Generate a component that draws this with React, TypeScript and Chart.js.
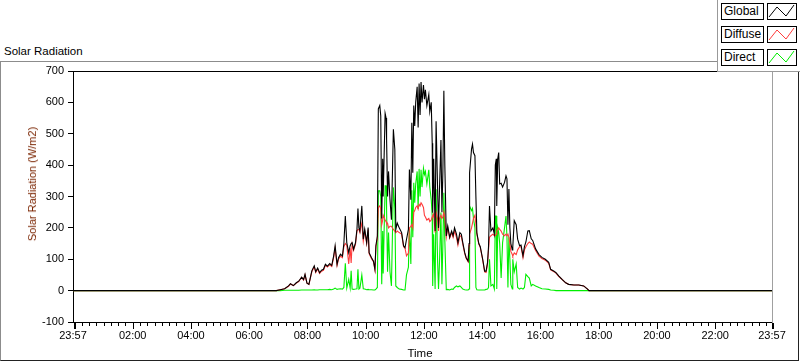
import React, { useEffect, useRef } from 'react';
import { Chart, registerables } from 'chart.js';

Chart.register(...registerables);

// time in minutes after midnight (23:57 of previous day = -3)
const times = [
  -3, 416, 424, 433, 441, 445, 451, 457, 462, 468,
  472, 475, 479, 483, 489, 494, 497, 501, 505, 509,
  513, 517, 521, 526, 530, 534, 537, 541, 544, 548,
  552, 555, 558, 561, 565, 568, 570, 572, 575, 579,
  582, 584, 586, 588, 590, 592, 595, 598, 602, 605,
  607, 612, 616, 619, 621, 624, 626, 629, 631, 633,
  635, 636, 640, 642, 643, 645, 647, 650, 653, 657,
  660, 662, 665, 669, 674, 678, 681, 684, 688, 690,
  693, 695, 697, 699, 701, 703, 706, 708, 710, 712,
  714, 716, 719, 721, 723, 726, 730, 732, 735, 737,
  738, 740, 743, 745, 748, 750, 752, 755, 757, 759,
  761, 763, 766, 769, 773, 777, 780, 783, 787, 790,
  794, 797, 800, 804, 807, 811, 813, 814, 818, 820,
  822, 825, 827, 829, 833, 836, 841, 845, 848, 851,
  853, 855, 858, 862, 865, 867, 869, 870, 872, 874,
  876, 879, 882, 886, 889, 891, 893, 895, 897, 899,
  902, 903, 906, 910, 913, 917, 920, 924, 927, 930,
  934, 937, 941, 944, 950, 957, 963, 970, 977, 981,
  988, 992, 998, 1005, 1012, 1018, 1029, 1039, 1049, 1057,
  1060, 1437,
];

const globalRad = [
  0, 0, 3, 6, 15, 22, 16, 25, 30, 43,
  35, 52, 24, 20, 63, 79, 60, 72, 57, 65,
  68, 84, 78, 86, 80, 111, 143, 84, 105, 116,
  110, 150, 238, 153, 121, 143, 150, 153, 132, 153,
  196, 262, 200, 190, 230, 270, 164, 196, 153, 201,
  121, 105, 94, 68, 143, 174, 579, 590, 557, 230,
  420, 300, 565, 550, 483, 300, 380, 290, 226, 514,
  450, 195, 215, 200, 185, 143, 137, 163, 195, 386,
  290, 535, 376, 590, 525, 600, 650, 520, 660, 560,
  665, 600, 655, 610, 640, 590, 625, 570, 600, 470,
  248, 420, 190, 540, 330, 200, 323, 480, 250, 380,
  637, 400, 174, 206, 170, 190, 175, 200, 180, 153,
  185, 180, 153, 121, 105, 94, 150, 376, 451, 467,
  440, 430, 300, 184, 150, 140, 100, 62, 62, 90,
  140, 270, 190, 200, 180, 400, 420, 270, 420, 440,
  340, 342, 330, 345, 366, 356, 210, 324, 200, 150,
  130, 140, 223, 210, 164, 143, 145, 111, 140, 155,
  190, 191, 165, 160, 133, 115, 106, 100, 90, 68,
  62, 57, 46, 35, 25, 20, 18, 18, 15, 5,
  0, 0,
];

const diffuseRad = [
  0, 0, 3, 6, 14, 21, 16, 24, 29, 42,
  34, 50, 24, 20, 60, 76, 58, 69, 55, 62,
  65, 81, 75, 82, 77, 106, 135, 80, 100, 110,
  105, 140, 150, 145, 85, 135, 88, 148, 128, 148,
  190, 195, 195, 185, 205, 215, 158, 190, 150, 195,
  118, 102, 92, 66, 140, 165, 265, 270, 260, 210,
  225, 240, 225, 220, 215, 215, 200, 205, 205, 195,
  190, 185, 190, 185, 180, 140, 135, 111, 120, 200,
  205, 210, 200, 250, 255, 265, 270, 260, 275, 270,
  280, 275, 265, 240, 235, 225, 230, 220, 225, 235,
  240, 245, 185, 250, 230, 190, 230, 240, 230, 235,
  250, 230, 170, 200, 168, 185, 170, 190, 170, 145,
  175, 172, 148, 118, 103, 92, 145, 180, 200, 215,
  230, 240, 210, 180, 148, 138, 98, 60, 58, 85,
  130, 170, 175, 180, 175, 175, 180, 190, 195, 200,
  195, 190, 180, 175, 180, 175, 180, 170, 150, 125,
  115, 110, 120, 115, 130, 140, 140, 105, 130, 140,
  150, 155, 150, 148, 128, 110, 102, 97, 87, 66,
  60, 56, 45, 35, 25, 20, 18, 18, 15, 5,
  0, 0,
];

const directRad = [
  0, 0, 0, 1, 1, 1, 1, 1, 1, 2,
  2, 2, 2, 2, 2, 3, 2, 2, 3, 3,
  3, 3, 3, 4, 3, 5, 8, 4, 5, 6,
  5, 10, 87, 8, 36, 8, 63, 5, 4, 5,
  6, 68, 5, 8, 28, 50, 6, 5, 3, 4,
  3, 3, 2, 2, 5, 10, 318, 318, 300, 20,
  190, 55, 334, 334, 260, 60, 185, 60, 15, 329,
  260, 15, 10, 5, 4, 2, 2, 50, 75, 198,
  85, 320, 170, 344, 280, 340, 380, 260, 388, 300,
  385, 330, 390, 370, 380, 340, 385, 330, 290, 238,
  15, 180, 5, 323, 100, 5, 90, 249, 20, 150,
  312, 160, 3, 4, 2, 5, 4, 10, 15, 12,
  15, 10, 5, 3, 2, 2, 5, 270, 255, 262,
  230, 200, 10, 3, 2, 2, 2, 2, 4, 5,
  10, 100, 15, 20, 5, 238, 238, 5, 200, 185,
  150, 40, 153, 200, 238, 170, 10, 170, 100, 20,
  5, 100, 60, 85, 10, 5, 8, 5, 10, 52,
  45, 40, 15, 20, 15, 10, 6, 5, 4, 2,
  1, 0, 0, 0, 0, 0, 0, 0, 0, 0,
  0, 0,
];

const seriesNames = ['Global', 'Diffuse', 'Direct'];
const seriesColors = ['#000000', '#ff3b3b', '#00ee00'];

const xMajorTicks = [-3, 120, 240, 360, 480, 600, 720, 840, 960, 1080, 1200, 1320, 1437];
const xMajorLabels = ['23:57', '02:00', '04:00', '06:00', '08:00', '10:00', '12:00', '14:00', '16:00', '18:00', '20:00', '22:00', '23:57'];
const xMinorTicks = Array.from({ length: 96 }, (_, i) => i * 15);
const yMin = -100;
const yMax = 700;
const yStep = 100;

const FONT = '"Liberation Sans", Arial, sans-serif';

const axisDecor = {
  id: 'axisDecor',
  afterDraw(chart: any) {
    const { ctx, chartArea: a, scales } = chart;
    const xs = scales.x;
    ctx.save();
    ctx.fillStyle = '#000';
    ctx.fillRect(a.left, a.top, a.right - a.left, 1);
    ctx.fillStyle = '#a0a0a0';
    ctx.fillRect(Math.round(a.right), a.top, 1, a.bottom - a.top + 1);
    ctx.fillStyle = '#000';
    for (const v of xMinorTicks) {
      const px = Math.round(xs.getPixelForValue(v));
      ctx.fillRect(px, a.bottom + 1, 1, 3);
    }
    xMajorTicks.forEach((v, i) => {
      const px = Math.round(xs.getPixelForValue(v));
      const w = i === 0 || i === xMajorTicks.length - 1 ? 2 : 1;
      ctx.fillRect(i === 0 ? px + 1 : px, a.bottom + 1, w, 6);
    });
    ctx.restore();
  },
};

function ChartCanvas() {
  const ref = useRef<HTMLCanvasElement>(null);
  useEffect(() => {
    const canvas = ref.current!;
    const series = [globalRad, diffuseRad, directRad];
    const chart = new Chart(canvas, {
      type: 'line',
      data: {
        datasets: series.map((vals, si) => ({
          label: seriesNames[si],
          data: times.map((t, i) => ({ x: t, y: vals[i] })),
          borderColor: seriesColors[si],
          backgroundColor: seriesColors[si],
          borderWidth: 1.1,
          pointRadius: 0,
          fill: false,
          tension: 0,
        })),
      },
      options: {
        animation: false,
        responsive: false,
        devicePixelRatio: 1,
        layout: { padding: { left: 0, top: 71, right: 28, bottom: 0 } },
        plugins: { legend: { display: false }, tooltip: { enabled: false }, title: { display: false } },
        scales: {
          x: {
            type: 'linear',
            min: -3,
            max: 1437,
            afterFit: (s: any) => { s.height = 39; },
            afterBuildTicks: (s: any) => { s.ticks = xMajorTicks.map((v) => ({ value: v })); },
            ticks: {
              autoSkip: false,
              maxRotation: 0,
              color: '#000',
              padding: 1,
              font: { family: FONT, size: 11 },
              callback: (_v: any, i: number) => xMajorLabels[i],
            },
            grid: { display: true, drawOnChartArea: false, tickLength: 6, tickColor: 'rgba(0,0,0,0)' },
            border: { display: true, color: '#000', width: 1 },
          },
          y: {
            min: yMin,
            max: yMax,
            afterFit: (s: any) => { s.width = 73; },
            ticks: {
              stepSize: yStep,
              color: '#000',
              padding: 4,
              font: { family: FONT, size: 11 },
            },
            grid: { display: true, drawOnChartArea: false, tickLength: 5, tickColor: '#000' },
            border: { display: true, color: '#000', width: 1 },
          },
        },
      },
      plugins: [axisDecor],
    } as any);
    return () => chart.destroy();
  }, []);
  return <canvas ref={ref} width={800} height={361} style={{ position: 'absolute', left: 0, top: 0, width: 800, height: 361 }} />;
}

function LegendIcon({ color }: { color: string }) {
  return (
    <svg width={28} height={15} style={{ display: 'block' }}>
      <polyline points="1,13 9,3 18,12 26,1" fill="none" stroke={color} strokeWidth={1} />
    </svg>
  );
}

export default function App() {
  return (
    <div style={{ position: 'fixed', left: 0, top: 0, width: 800, height: 361, background: '#fff', overflow: 'hidden', fontFamily: FONT, color: '#000' }}>
      <div style={{ position: 'absolute', left: 4, top: 45, fontSize: 11.5, lineHeight: '12px', whiteSpace: 'nowrap' }}>Solar Radiation</div>
      <div style={{ position: 'absolute', left: 0, top: 61, width: 799, height: 300, boxSizing: 'border-box', borderTop: '1px solid #8c8c8c', borderLeft: '1px solid #8c8c8c', borderRight: '1px solid #222', borderBottom: '1px solid #222' }} />
      <ChartCanvas />
      <div style={{ position: 'absolute', left: 32, top: 184, transform: 'translate(-50%, -50%) rotate(-90deg)', fontSize: 11, lineHeight: '12px', whiteSpace: 'nowrap', color: '#7a2400' }}>Solar Radiation (W/m2)</div>
      <div style={{ position: 'absolute', left: 420, top: 353, transform: 'translate(-50%, -50%)', fontSize: 11.5, lineHeight: '12px', whiteSpace: 'nowrap' }}>Time</div>
      <div style={{ position: 'absolute', left: 717, top: 0, width: 83, height: 72, boxSizing: 'border-box', background: '#fff', borderLeft: '1px solid #999', borderBottom: '1px solid #999' }}>
        {seriesNames.map((name, i) => (
          <React.Fragment key={name}>
            <div style={{ position: 'absolute', left: 3, top: 3 + i * 23, width: 43, height: 17, boxSizing: 'border-box', border: '1px solid #000', fontSize: 12, lineHeight: '15px', paddingLeft: 2, whiteSpace: 'nowrap' }}>{name}</div>
            <div style={{ position: 'absolute', left: 49, top: 3 + i * 23, width: 30, height: 17, boxSizing: 'border-box', border: '1px solid #000' }}>
              <LegendIcon color={seriesColors[i]} />
            </div>
          </React.Fragment>
        ))}
      </div>
    </div>
  );
}
